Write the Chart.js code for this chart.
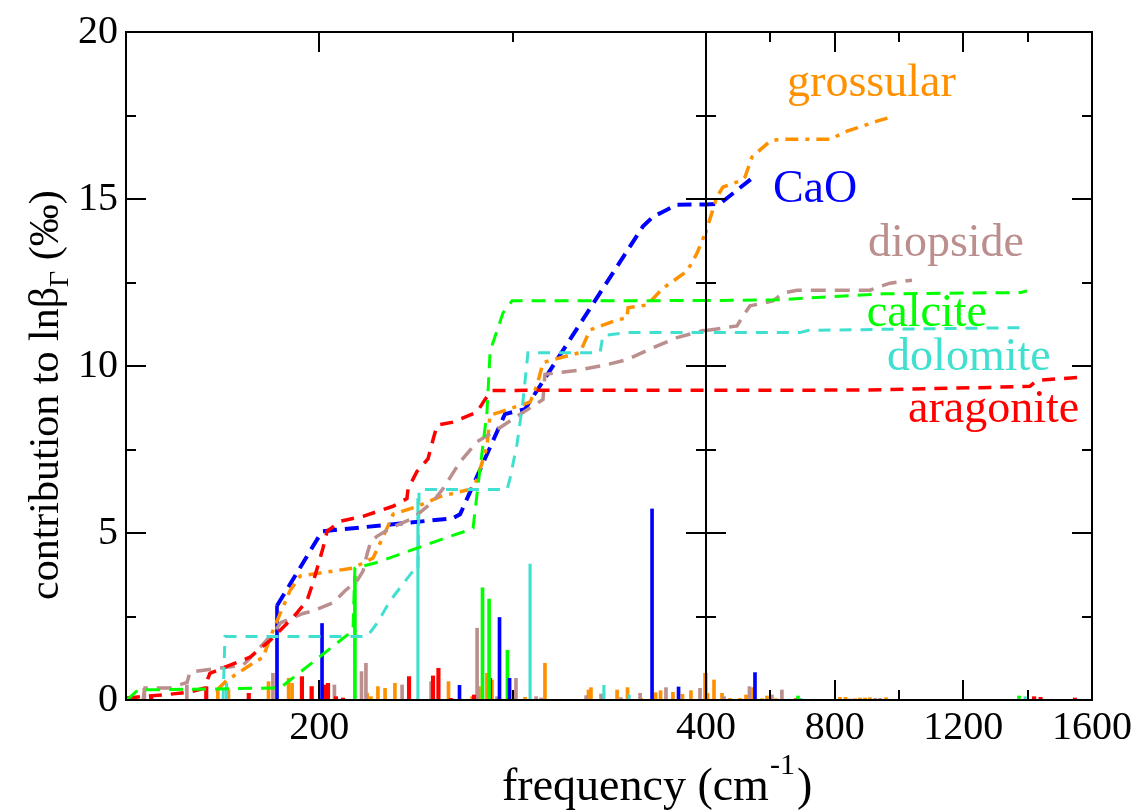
<!DOCTYPE html>
<html>
<head>
<meta charset="utf-8">
<script src="https://cdn.jsdelivr.net/npm/chart.js@4.4.0/dist/chart.umd.min.js"></script>
<style>
  body { margin: 0; background: #fff; }
  #wrap { position: relative; width: 1141px; height: 812px; }
  canvas { position: absolute; left: 0; top: 0; }
</style>
</head>
<body>
<div id="wrap">
  <canvas id="leftChart" width="1141" height="812"></canvas>
  <canvas id="rightChart" width="1141" height="812"></canvas>
</div>
<script>
// cumulative contribution to ln beta (per mil) vs frequency (cm-1)
const caoFreq = [178.1, 201.4, 269.1, 272.8, 296.0, 306.4, 367.4, 372.6, 377.8, 385.0, 443.5, 552.3]
const caoCum = [2.82, 5.05, 5.44, 5.56, 8.56, 8.71, 14.18, 14.47, 14.62, 14.83, 14.86, 15.69]

const grossularFreq = [147.1, 152.2, 165.7, 170.9, 176.0, 184.8, 190.0, 200.3, 217.4, 227.8, 235.0, 238.1, 250.5, 262.4, 279.5,
  281.6, 286.7, 288.3, 293.4, 309.0, 312.6, 315.7, 320.9, 334.8, 340.0, 354.0, 359.1, 359.7, 369.5, 377.8, 390.2, 395.3, 400.0,
  434.2, 452.8, 505.7, 521.2, 543.0, 599.0, 630.1, 785.5, 838.3, 931.6, 981.3]
const grossularCum = [0.30, 0.59, 1.10, 1.28, 2.08, 3.27, 3.71, 3.80, 3.95, 4.25, 5.14, 5.56, 5.79, 6.09, 6.33,
  6.63, 7.58, 8.53, 8.62, 8.92, 9.42, 10.10, 10.19, 10.40, 11.08, 11.38, 11.44, 11.74, 11.83, 12.33, 12.84, 13.37, 14.03,
  15.07, 15.36, 15.54, 15.66, 16.26, 16.73, 16.79, 16.79, 17.03, 17.33, 17.47]

const aragoniteFreq = [100.5, 106.2, 119.1, 133.1, 140.9, 142.4, 143.4, 164.1, 174.5, 186.4, 193.6, 196.7, 201.9, 204.0, 210.7,
  222.6, 238.1, 245.3, 245.9, 250.5, 256.2, 258.8, 260.9, 269.1, 281.6, 285.7, 289.3, 900, 1283, 1407, 1429, 1560]
const aragoniteCum = [0.06, 0.09, 0.15, 0.24, 0.36, 0.65, 0.80, 1.28, 1.78, 2.47, 2.97, 3.51, 4.55, 5.05, 5.35,
  5.50, 5.80, 6.03, 6.33, 6.84, 7.22, 7.79, 8.23, 8.32, 8.62, 9.00, 9.27, 9.28, 9.36, 9.39, 9.57, 9.66]

const calciteFreq = [100.5, 106.2, 179.7, 217.4, 218.4, 228.8, 267.6, 277.9, 279.5, 283.1, 286.7, 288.3, 289.3, 295.0, 299.7,
  620, 760, 950, 1380, 1398]
const calciteCum = [0.0, 0.30, 0.36, 2.08, 3.95, 4.10, 4.90, 5.10, 5.14, 6.92, 8.62, 10.40, 10.61, 11.59, 11.95,
  11.98, 12.06, 12.16, 12.20, 12.25]

const dolomiteFreq = [150.2, 151.2, 224.7, 229.8, 236.6, 248.4, 251.0, 251.6, 297.1, 298.6, 302.2, 305.3, 307.9, 345.2, 346.7,
  359.1, 692, 720, 1398]
const dolomiteCum = [0.0, 1.90, 1.90, 2.29, 2.97, 3.86, 3.86, 6.30, 6.30, 6.63, 7.64, 8.92, 10.40, 10.40, 10.91,
  11.00, 11.00, 11.07, 11.15]

const diopsideFreq = [108.8, 109.8, 122.8, 131.6, 133.1, 147.1, 160.5, 164.1, 176.0, 180.2, 191.6, 196.7, 207.1, 213.3, 219.5,
  222.6, 224.7, 226.7, 229.8, 236.6, 248.4, 258.8, 264.0, 272.8, 281.6, 289.8, 315.7, 316.7, 333.3, 348.8,
  359.1, 372.6, 385.0, 398.4, 496.4, 515.0, 536.8, 608.3, 639.4, 682.9, 909.8, 972.0, 1040.4]
const diopsideCum = [0.0, 0.36, 0.36, 0.53, 0.83, 0.95, 1.04, 1.25, 1.99, 2.32, 2.59, 2.67, 2.91, 3.27, 3.57,
  3.86, 4.37, 4.75, 4.90, 5.14, 5.44, 5.94, 6.33, 7.13, 7.73, 8.02, 9.00, 9.75, 9.87, 10.04,
  10.19, 10.55, 10.85, 11.06, 11.20, 11.50, 11.80, 11.95, 12.18, 12.27, 12.27, 12.48, 12.57]

// contribution of single modes (sticks)
const caoStickFreq = [178.1, 201.4, 272.5, 293.2, 298.4, 372.1, 385.8, 552.3]
const caoStickHeight = [2.82, 2.29, 0.44, 2.47, 0.65, 5.72, 0.39, 0.82]

const calciteStickFreq = [218.4, 284.4, 287.8, 297.3, 686, 1373]
const calciteStickHeight = [3.71, 3.36, 3.02, 1.49, 0.12, 0.12]

const dolomiteStickFreq = [152.0, 251.0, 309.0, 347.2, 360.2, 695, 1392]
const dolomiteStickHeight = [0.5, 6.03, 4.07, 0.44, 0.15, 0.05, 0.1]

const aragoniteStickFreq = [113.0, 141.5, 163.5, 191.0, 196.0, 202.4, 204.5, 208.6, 212.2, 246.4, 258.8, 261.6, 268.0, 280.0, 288.3,
  680, 1420, 1440, 1547]
const aragoniteStickHeight = [0.08, 0.4, 0.2, 0.7, 0.4, 0.45, 0.5, 0.1, 0.06, 0.7, 0.72, 0.95, 0.05, 0.15, 0.65,
  0.04, 0.1, 0.08, 0.06]

const diopsideStickFreq = [109.5, 131.5, 176.0, 207.8, 221.8, 224.1, 242.8, 257.8, 281.6, 291.9, 301.7, 312.1, 314.7, 338.0, 345.7,
  356.0, 365.9, 379.3, 396.9, 456, 535, 605, 636, 848, 926, 941]
const diopsideStickHeight = [0.35, 0.45, 0.8, 0.45, 0.85, 1.1, 0.45, 0.55, 2.15, 0.1, 0.65, 0.1, 0.06, 0.13, 0.18,
  0.07, 0.2, 0.37, 0.35, 0.1, 0.4, 0.15, 0.3, 0.03, 0.05, 0.05]

const grossularStickFreq = [147.5, 153.0, 173.7, 184.1, 185.9, 196.2, 224.7, 226.7, 230.3, 234.0, 239.1, 266.8, 279.0, 282.6, 286.7,
  289.3, 300.7, 306.4, 316.7, 339.2, 340.5, 354.0, 359.4, 366.4, 373.9, 376.5, 382.9, 387.8, 392.2, 399.5,
  404.7, 424.9, 449.7, 474.6, 505.7, 524.4, 546.1, 574.1, 589.6, 617.6, 816.6, 833.7, 863, 878.8, 894.3, 909.8, 959.6]
const grossularStickHeight = [0.3, 0.3, 0.55, 0.65, 0.5, 0.4, 0.2, 0.1, 0.4, 0.35, 0.5, 0.55, 0.1, 0.4, 0.8,
  0.6, 0.25, 0.08, 1.1, 0.3, 0.37, 0.3, 0.37, 0.05, 0.22, 0.28, 0.23, 0.17, 0.28, 0.8,
  0.2, 0.6, 0.2, 0.05, 0.05, 0.15, 0.37, 0.04, 0.12, 0.04, 0.08, 0.08, 0.04, 0.06, 0.06, 0.07, 0.07]

// axis tick labels
const yLabels = [0, 5, 10, 15, 20]
const leftXLabels = [200]
const rightXLabels = [400, 800, 1200, 1600]

const grossularColor = '#ff9100'
const caoColor = '#0000ff'
const diopsideColor = '#bc8f8f'
const calciteColor = '#00ff00'
const dolomiteColor = '#40e0d0'
const aragoniteColor = '#ff0000'

const serif = '"Liberation Serif", "Times New Roman", serif'

function pts(xs, ys) {
  return xs.map((x, i) => ({x: x, y: ys[i]}))
}

function curve(label, xs, ys, color, width, dash) {
  return {
    type: 'line', label: label, data: pts(xs, ys),
    borderColor: color, borderWidth: width, borderDash: dash,
    pointRadius: 0, fill: false, tension: 0, order: 1,
    clip: {left: 0, right: 0, top: 3, bottom: 3}
  }
}

function sticks(label, xs, ys, color, thick) {
  return {
    type: 'bar', label: label, data: pts(xs, ys),
    backgroundColor: color, borderWidth: 0, barThickness: thick,
    grouped: false, order: 2, clip: 0
  }
}

function makeDatasets() {
  return [
    curve('calcite', calciteFreq, calciteCum, calciteColor, 3, [14, 9]),
    curve('dolomite', dolomiteFreq, dolomiteCum, dolomiteColor, 3, [12, 9]),
    curve('aragonite', aragoniteFreq, aragoniteCum, aragoniteColor, 3.5, [13, 9]),
    curve('diopside', diopsideFreq, diopsideCum, diopsideColor, 3.5, [15, 9]),
    curve('grossular', grossularFreq, grossularCum, grossularColor, 3.5, [13, 7, 4, 7]),
    curve('CaO', caoFreq, caoCum, caoColor, 4, [14, 8]),
    sticks('CaO modes', caoStickFreq, caoStickHeight, caoColor, 3),
    sticks('calcite modes', calciteStickFreq, calciteStickHeight, calciteColor, 3),
    sticks('dolomite modes', dolomiteStickFreq, dolomiteStickHeight, dolomiteColor, 2.5),
    sticks('aragonite modes', aragoniteStickFreq, aragoniteStickHeight, aragoniteColor, 3.5),
    sticks('diopside modes', diopsideStickFreq, diopsideStickHeight, diopsideColor, 3),
    sticks('grossular modes', grossularStickFreq, grossularStickHeight, grossularColor, 3)
  ]
}

// frame plus inward ticks on all four sides (xmgrace look)
const frameTicks = {
  id: 'frameTicks',
  afterDatasetsDraw(chart, args, opts) {
    const ctx = chart.ctx
    const a = chart.chartArea
    const x = chart.scales.x
    const y = chart.scales.y
    const isMajor = (v, step) => Math.abs(v / step - Math.round(v / step)) < 1e-6
    ctx.save()
    ctx.strokeStyle = '#000'
    ctx.lineWidth = 2
    ctx.strokeRect(a.left, a.top, a.right - a.left, a.bottom - a.top)
    ctx.beginPath()
    x.ticks.forEach(t => {
      const px = Math.round(x.getPixelForValue(t.value))
      const len = isMajor(t.value, opts.xStep) ? 20 : 10
      ctx.moveTo(px, a.bottom); ctx.lineTo(px, a.bottom - len)
      ctx.moveTo(px, a.top); ctx.lineTo(px, a.top + len)
    })
    y.ticks.forEach(t => {
      const py = Math.round(y.getPixelForValue(t.value))
      const len = isMajor(t.value, opts.yStep) ? 20 : 10
      ctx.moveTo(a.left, py); ctx.lineTo(a.left + len, py)
      ctx.moveTo(a.right, py); ctx.lineTo(a.right - len, py)
    })
    ctx.stroke()
    ctx.restore()
  }
}

const axisTitles = {
  id: 'axisTitles',
  afterDraw(chart) {
    const ctx = chart.ctx
    const a = chart.chartArea
    ctx.save()
    ctx.fillStyle = '#000'
    ctx.textAlign = 'left'
    ctx.textBaseline = 'alphabetic'
    // x title
    let x0 = 502
    const base = a.bottom + 100
    ctx.font = '46px ' + serif
    ctx.fillText('frequency (cm', x0, base)
    x0 += ctx.measureText('frequency (cm').width
    ctx.font = '30px ' + serif
    ctx.fillText('-1', x0 + 1, base - 26)
    x0 += ctx.measureText('-1').width + 3
    ctx.font = '46px ' + serif
    ctx.fillText(')', x0, base)
    // y title, rotated
    ctx.translate(58, 600)
    ctx.rotate(-Math.PI / 2)
    ctx.font = '42px ' + serif
    ctx.fillText('contribution to lnβ', 0, 0)
    let w = ctx.measureText('contribution to lnβ').width
    ctx.font = '28px ' + serif
    ctx.fillText('Γ', w, 10)
    w += ctx.measureText('Γ').width
    ctx.font = '42px ' + serif
    ctx.fillText(' (‰)', w, 0)
    ctx.restore()
  }
}

const mineralLabels = [
  {text: 'grossular', color: grossularColor, f: 652, v: 18.07},
  {text: 'CaO', color: caoColor, f: 608, v: 14.92},
  {text: 'diopside', color: diopsideColor, f: 904, v: 13.28},
  {text: 'calcite', color: calciteColor, f: 900, v: 11.2},
  {text: 'dolomite', color: dolomiteColor, f: 963, v: 9.87},
  {text: 'aragonite', color: aragoniteColor, f: 1028, v: 8.32}
]

const curveLabels = {
  id: 'curveLabels',
  afterDraw(chart) {
    const ctx = chart.ctx
    ctx.save()
    ctx.font = '46px ' + serif
    ctx.textAlign = 'left'
    ctx.textBaseline = 'alphabetic'
    mineralLabels.forEach(l => {
      ctx.fillStyle = l.color
      ctx.fillText(l.text, chart.scales.x.getPixelForValue(l.f), chart.scales.y.getPixelForValue(l.v))
    })
    ctx.restore()
  }
}

const tickFont = {family: serif, size: 40}

function yScale(showLabels, width) {
  return {
    type: 'linear', min: 0, max: 20,
    grid: {display: false, drawTicks: false}, border: {display: false},
    afterFit: s => { s.width = width },
    ticks: {
      stepSize: 2.5, autoSkip: false, padding: 8, color: '#000', font: tickFont,
      callback: v => (showLabels && yLabels.includes(v)) ? String(v) : ''
    }
  }
}

function xScale(min, max, step, labels) {
  return {
    type: 'linear', min: min, max: max, offset: false,
    grid: {display: false, drawTicks: false}, border: {display: false},
    afterFit: s => { s.height = 112 },
    ticks: {
      stepSize: step, autoSkip: false, maxRotation: 0, minRotation: 0, padding: 4,
      color: '#000', font: tickFont,
      callback: v => labels.includes(v) ? String(v) : ''
    }
  }
}

// left panel: 100-400 cm-1
new Chart(document.getElementById('leftChart'), {
  type: 'line',
  data: {datasets: makeDatasets()},
  options: {
    responsive: false,
    animation: false,
    events: [],
    layout: {padding: {left: 0, top: 27, right: 1141 - 706, bottom: 0}},
    plugins: {
      legend: {display: false},
      tooltip: {enabled: false},
      frameTicks: {xStep: 200, yStep: 5}
    },
    scales: {
      x: xScale(100, 400, 100, leftXLabels),
      y: yScale(true, 126)
    }
  },
  plugins: [frameTicks, axisTitles]
})

// right panel: 400-1600 cm-1
new Chart(document.getElementById('rightChart'), {
  type: 'line',
  data: {datasets: makeDatasets()},
  options: {
    responsive: false,
    animation: false,
    events: [],
    layout: {padding: {left: 706, top: 27, right: 1141 - 1092, bottom: 0}},
    plugins: {
      legend: {display: false},
      tooltip: {enabled: false},
      frameTicks: {xStep: 400, yStep: 5}
    },
    scales: {
      x: xScale(400, 1600, 200, rightXLabels),
      y: yScale(false, 0)
    }
  },
  plugins: [frameTicks, curveLabels]
})
</script>
</body>
</html>
